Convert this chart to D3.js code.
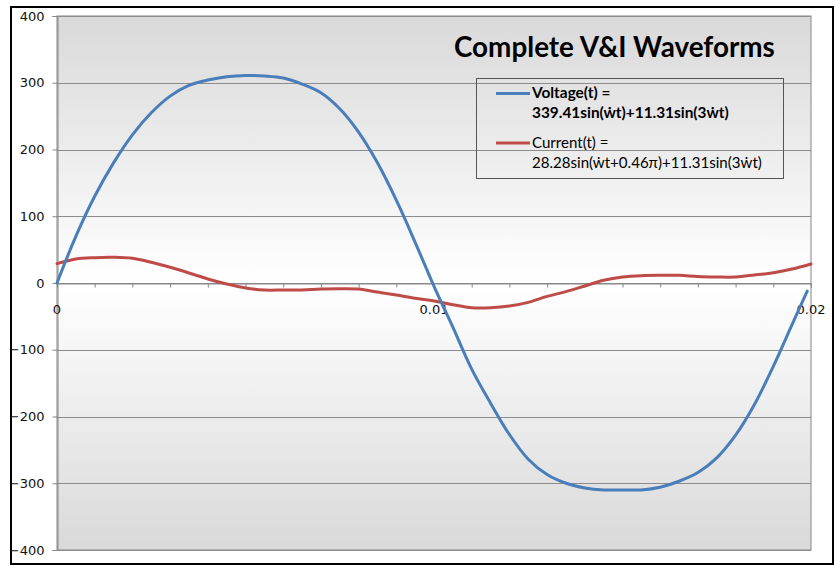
<!DOCTYPE html>
<html>
<head>
<meta charset="utf-8">
<script src="https://cdn.jsdelivr.net/npm/d3@7"></script>
<style>
  html, body { margin: 0; padding: 0; background: #fff; }
  svg { display: block; }
</style>
</head>
<body>
<svg id="chart" width="835" height="565"></svg>
<script>
// ---------------- DATA ----------------
const titleText = "Complete V&I Waveforms";
const yTicks = [-400, -300, -200, -100, 0, 100, 200, 300, 400];
const xTickLabels = [0, 0.01, 0.02];
const xMinorTicks = [0, 0.001, 0.002, 0.003, 0.004, 0.005, 0.006, 0.007, 0.008, 0.009, 0.01,
                     0.011, 0.012, 0.013, 0.014, 0.015, 0.016, 0.017, 0.018, 0.019, 0.02];

const voltageTime = [0, 0.0005, 0.001, 0.0015, 0.002, 0.0025, 0.003, 0.0035, 0.004, 0.0045,
                     0.005, 0.0055, 0.006, 0.0065, 0.007, 0.0075, 0.008, 0.0085, 0.009, 0.0095,
                     0.01, 0.0105, 0.011, 0.0115, 0.012, 0.0125, 0.013, 0.0135, 0.014, 0.0145,
                     0.015, 0.0155, 0.016, 0.0165, 0.017, 0.0175, 0.018, 0.0185, 0.019, 0.0195, 0.0199];
const voltage = [0, 70, 130, 180, 222, 255, 280, 296, 304, 309,
                 311, 310, 307, 298, 285, 261, 226, 180, 124, 61,
                 -5, -66, -129, -180, -227, -264, -287, -300, -307, -310,
                 -310, -310, -306, -297, -284, -262, -228, -182, -125, -62, -12];

const currentTime = [0, 0.0005, 0.001, 0.0015, 0.002, 0.0025, 0.003, 0.0035, 0.004, 0.0045,
                     0.005, 0.0055, 0.006, 0.0065, 0.007, 0.0075, 0.008, 0.0085, 0.009, 0.0095,
                     0.01, 0.0105, 0.011, 0.0115, 0.012, 0.0125, 0.013, 0.0135, 0.014, 0.0145,
                     0.015, 0.0155, 0.016, 0.0165, 0.017, 0.0175, 0.018, 0.0185, 0.019, 0.0195, 0.02];
const current = [29, 36, 38, 38.5, 37, 31, 23.5, 15, 6, -1.5,
                 -7.5, -10.5, -10.5, -10.5, -9, -8.5, -9, -13.5, -18, -23,
                 -27, -32.5, -37, -37, -34.5, -29, -20, -13, -4.5, 4,
                 9, 11, 11.5, 11.5, 9.7, 9, 9, 12, 15.5, 21, 28.5];

const seriesNames = ["Voltage(t) =", "Current(t) ="];
const seriesFormulas = ["339.41sin(\u1E87t)+11.31sin(3\u1E87t)", "28.28sin(\u1E87t+0.46\u03C0)+11.31sin(3\u1E87t)"];
const seriesColors = ["#4A7EBB", "#BE4B48"];

// ---------------- LAYOUT ----------------
const svg = d3.select("#chart");
const plot = { left: 57, top: 16, right: 811, bottom: 550 };

const x = d3.scaleLinear().domain([0, 0.02]).range([plot.left, plot.right]);
const y = d3.scaleLinear().domain([-400, 400]).range([plot.bottom, plot.top]);

// outer white chart area with black frame
svg.append("rect").attr("x", 0).attr("y", 0).attr("width", 835).attr("height", 565).attr("fill", "#fff");
svg.append("rect")
  .attr("x", 11).attr("y", 7).attr("width", 822).attr("height", 557)
  .attr("fill", "#fff").attr("stroke", "#000").attr("stroke-width", 2);

// plot background gradient
const defs = svg.append("defs");
const grad = defs.append("linearGradient").attr("id", "bg").attr("x1", 0).attr("y1", 0).attr("x2", 0).attr("y2", 1);
grad.append("stop").attr("offset", "0%").attr("stop-color", "#d9d9d9");
grad.append("stop").attr("offset", "50%").attr("stop-color", "#ffffff");
grad.append("stop").attr("offset", "100%").attr("stop-color", "#d9d9d9");

svg.append("rect")
  .attr("x", plot.left).attr("y", plot.top)
  .attr("width", plot.right - plot.left).attr("height", plot.bottom - plot.top)
  .attr("fill", "url(#bg)").attr("stroke", "#868686").attr("stroke-width", 1);

// gridlines
svg.append("g").selectAll("line").data(yTicks).join("line")
  .attr("x1", plot.left).attr("x2", plot.right)
  .attr("y1", d => Math.round(y(d)) + 0.5).attr("y2", d => Math.round(y(d)) + 0.5)
  .attr("stroke", "#8c8c8c").attr("stroke-width", 1);

// Y axis
const yAxis = d3.axisLeft(y).tickValues(yTicks).tickSize(5).tickPadding(8).tickFormat(d3.format("d"));
const gy = svg.append("g").attr("transform", `translate(${plot.left + 0.5},0)`).call(yAxis);
gy.select(".domain").attr("stroke", "#868686");
gy.selectAll(".tick line").attr("stroke", "#868686");
gy.selectAll(".tick text")
  .attr("font-family", "'DejaVu Sans', Verdana, sans-serif")
  .attr("font-size", 13).attr("fill", "#111");

// X axis through zero (ticks every 0.001, labels at 0, 0.01, 0.02)
const xAxis = d3.axisBottom(x).tickValues(xMinorTicks).tickSize(4).tickFormat("");
const gx = svg.append("g").attr("transform", `translate(0,${Math.round(y(0)) + 0.5})`).call(xAxis);
gx.select(".domain").attr("stroke", "#868686");
gx.selectAll(".tick line").attr("stroke", "#868686");

svg.append("g").selectAll("text").data(xTickLabels).join("text")
  .attr("x", d => x(d)).attr("y", y(0) + 31)
  .attr("text-anchor", "middle")
  .attr("font-family", "'DejaVu Sans', Verdana, sans-serif")
  .attr("font-size", 13).attr("fill", "#111")
  .text(d => d === 0 ? "0" : d3.format(".2f")(d));

// series lines
const lineGen = d3.line().curve(d3.curveCatmullRom.alpha(0.5)).x(d => x(d[0])).y(d => y(d[1]));
const vData = voltageTime.map((t, i) => [t, voltage[i]]);
const cData = currentTime.map((t, i) => [t, current[i]]);

svg.append("path").datum(cData).attr("d", lineGen)
  .attr("fill", "none").attr("stroke", seriesColors[1]).attr("stroke-width", 3)
  .attr("stroke-linejoin", "round").attr("stroke-linecap", "round");
svg.append("path").datum(vData).attr("d", lineGen)
  .attr("fill", "none").attr("stroke", seriesColors[0]).attr("stroke-width", 3)
  .attr("stroke-linejoin", "round").attr("stroke-linecap", "round");

// helper to fit text width
function fitWidth(sel, w) {
  const cur = sel.node().getComputedTextLength();
  const fs = parseFloat(sel.attr("font-size"));
  if (cur > 0) sel.attr("font-size", (fs * w / cur).toFixed(2));
}

// title
const title = svg.append("text")
  .attr("x", 454).attr("y", 57)
  .attr("font-family", "Lato, 'Open Sans', sans-serif")
  .attr("font-weight", "bold").attr("font-size", 24).attr("fill", "#000")
  .text(titleText);
fitWidth(title, 321);

// legend
svg.append("rect")
  .attr("x", 476.5).attr("y", 78.5).attr("width", 307).attr("height", 100)
  .attr("fill", "none").attr("stroke", "#555").attr("stroke-width", 1);

const legendRows = [
  { lineY: 93.5, color: seriesColors[0], name: seriesNames[0], formula: seriesFormulas[0], bold: true, y1: 97.5, y2: 118, w: 197 },
  { lineY: 143, color: seriesColors[1], name: seriesNames[1], formula: seriesFormulas[1], bold: false, y1: 147.5, y2: 168, w: 230 }
];
legendRows.forEach(r => {
  svg.append("line").attr("x1", 496).attr("x2", 530).attr("y1", r.lineY).attr("y2", r.lineY)
    .attr("stroke", r.color).attr("stroke-width", 3);
  const t1 = svg.append("text").attr("x", 532).attr("y", r.y1)
    .attr("font-family", "Lato, 'Open Sans', sans-serif")
    .attr("font-weight", r.bold ? "bold" : "normal").attr("font-size", 13).attr("fill", "#000")
    .text(r.name);
  const t2 = svg.append("text").attr("x", 532).attr("y", r.y2)
    .attr("font-family", "Lato, 'Open Sans', sans-serif")
    .attr("font-weight", r.bold ? "bold" : "normal").attr("font-size", 13).attr("fill", "#000")
    .text(r.formula);
  fitWidth(t2, r.w);
  t1.attr("font-size", t2.attr("font-size"));
});
</script>
</body>
</html>
